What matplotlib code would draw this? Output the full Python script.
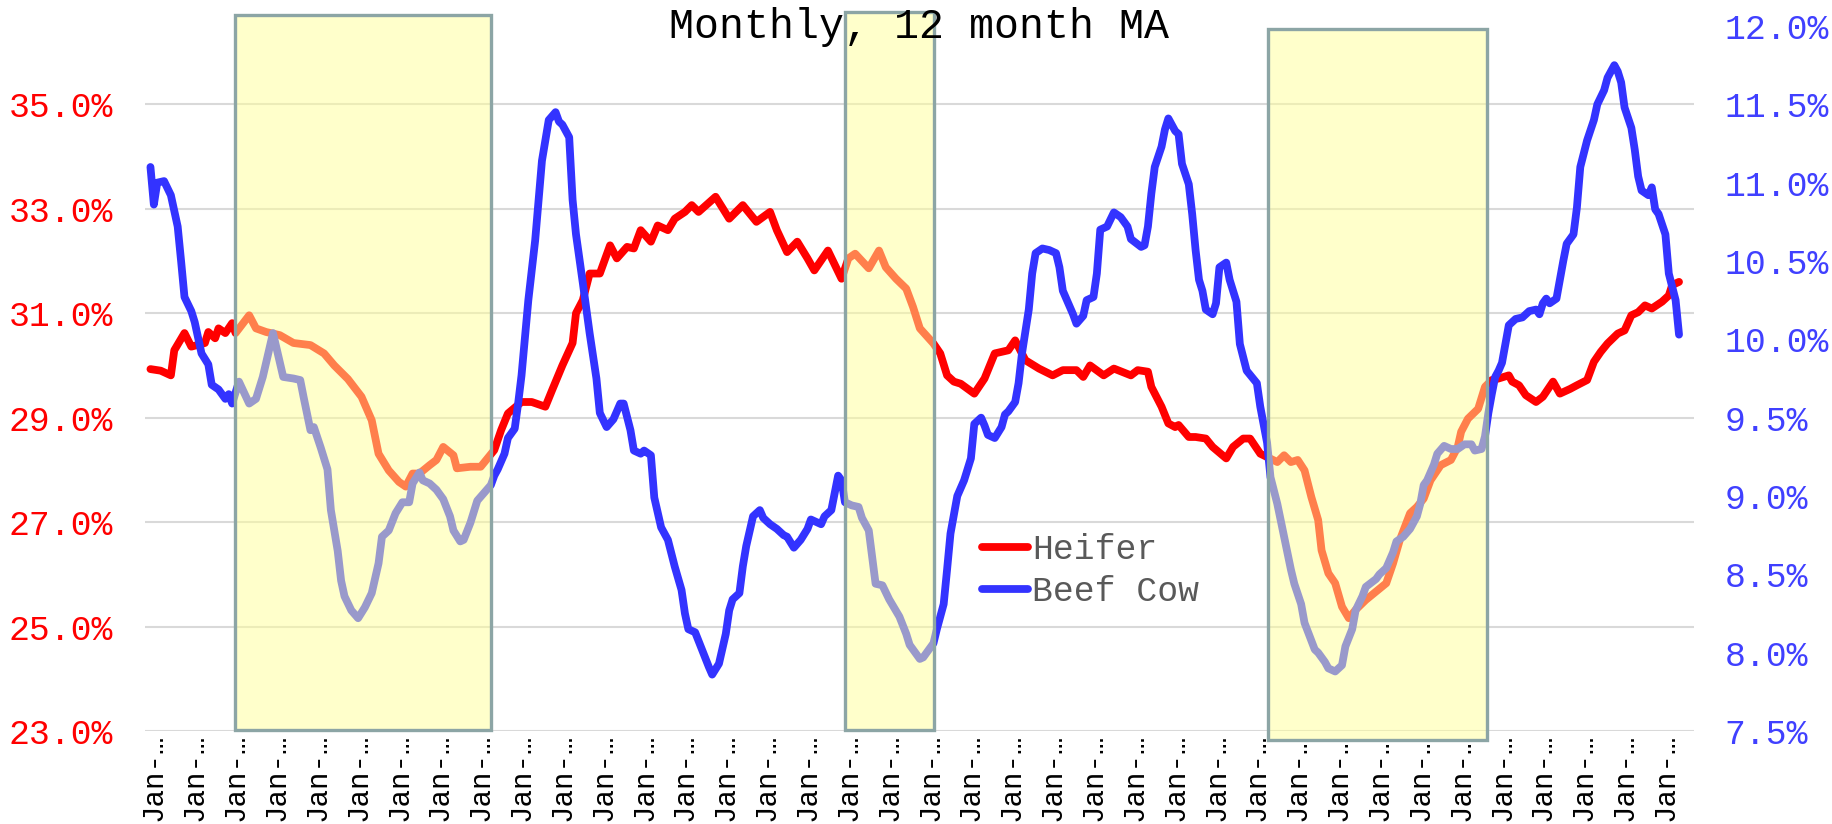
import matplotlib
matplotlib.use("Agg")
import matplotlib.pyplot as plt
from matplotlib.patches import Rectangle

# ---------------- data (month index from series start, percent) ----------------
heifer_month = [0, 3, 6, 7, 10, 12, 16, 17, 19, 20, 22, 24, 25, 29, 31, 34, 38, 42, 47, 51,
                54, 58, 62, 65, 67, 70, 73, 75, 77, 79, 82, 84, 86, 89, 90, 94, 97, 99, 101, 103,
                105, 109, 112, 116, 118, 121, 124, 125, 127, 129, 132, 135, 137, 140, 142, 144, 147, 149, 152, 154,
                157, 159, 161, 166, 170, 174, 178, 182, 184, 187, 190, 193, 195, 199, 203, 205, 207, 211, 214, 216,
                219, 222, 224, 226, 230, 232, 234, 236, 238, 242, 245, 248, 252, 254, 257, 261, 265, 268, 272, 274,
                276, 280, 283, 288, 290, 293, 294, 297, 299, 301, 302, 305, 307, 310, 312, 316, 318, 321, 323, 326,
                331, 333, 335, 337, 339, 341, 343, 344, 346, 348, 350, 352, 354, 357, 360, 363, 365, 367, 370, 372,
                374, 376, 379, 382, 384, 385, 387, 390, 392, 394, 396, 399, 400, 402, 404, 407, 409, 412, 414, 417,
                419, 422, 424, 426, 428, 431, 433, 435, 437, 439, 441, 444, 446, 447, 449]
heifer_pct = [29.93, 29.90, 29.81, 30.29, 30.62, 30.36, 30.43, 30.64, 30.52, 30.71, 30.62, 30.81, 30.62, 30.96, 30.71, 30.64, 30.58, 30.43, 30.39, 30.23,
              30.00, 29.74, 29.40, 28.95, 28.31, 27.99, 27.77, 27.68, 27.93, 27.93, 28.09, 28.19, 28.44, 28.28, 28.03, 28.06, 28.06, 28.22, 28.38, 28.76,
              29.08, 29.30, 29.30, 29.21, 29.53, 30.00, 30.43, 31.00, 31.25, 31.76, 31.76, 32.30, 32.05, 32.27, 32.24, 32.59, 32.37, 32.68, 32.59, 32.81,
              32.94, 33.07, 32.94, 33.23, 32.81, 33.07, 32.75, 32.94, 32.59, 32.17, 32.37, 32.05, 31.82, 32.20, 31.66, 32.05, 32.14, 31.86, 32.20, 31.88,
              31.66, 31.47, 31.12, 30.71, 30.42, 30.23, 29.81, 29.69, 29.65, 29.46, 29.75, 30.23, 30.29, 30.48, 30.10, 29.94, 29.81, 29.91, 29.91, 29.78,
              30.00, 29.81, 29.94, 29.81, 29.91, 29.88, 29.59, 29.21, 28.89, 28.82, 28.86, 28.63, 28.63, 28.60, 28.44, 28.22, 28.44, 28.60, 28.60, 28.31,
              28.15, 28.28, 28.15, 28.19, 27.99, 27.48, 27.04, 26.46, 26.02, 25.83, 25.38, 25.16, 25.32, 25.51, 25.67, 25.83, 26.21, 26.66, 27.17, 27.29,
              27.45, 27.80, 28.09, 28.19, 28.44, 28.73, 28.98, 29.17, 29.59, 29.72, 29.75, 29.81, 29.69, 29.62, 29.43, 29.30, 29.40, 29.69, 29.46, 29.55,
              29.62, 29.72, 30.07, 30.26, 30.42, 30.61, 30.67, 30.96, 31.02, 31.15, 31.09, 31.22, 31.34, 31.54, 31.60]

cow_month = [0, 1, 2, 4, 6, 8, 9, 10, 12, 13, 15, 17, 18, 20, 22, 23, 24, 26, 29, 31,
             33, 36, 39, 42, 44, 45, 47, 48, 50, 52, 53, 55, 56, 57, 59, 61, 63, 65, 67, 68,
             70, 72, 74, 76, 77, 79, 80, 82, 84, 86, 88, 89, 91, 92, 94, 96, 98, 100, 101, 102,
             104, 105, 107, 108, 109, 111, 113, 115, 117, 119, 120, 121, 123, 124, 125, 127, 129, 131, 132, 134,
             136, 138, 139, 141, 142, 144, 145, 147, 148, 150, 152, 154, 156, 157, 158, 160, 162, 164, 165, 167,
             169, 170, 171, 173, 174, 175, 177, 179, 180, 182, 184, 186, 187, 189, 191, 193, 194, 197, 198, 200,
             201, 202, 203, 204, 206, 208, 209, 211, 212, 213, 215, 217, 220, 222, 223, 224, 226, 227, 228, 230,
             231, 233, 234, 235, 237, 239, 241, 242, 244, 245, 246, 248, 250, 251, 252, 254, 255, 256, 258, 259,
             260, 262, 264, 266, 267, 268, 269, 271, 272, 274, 275, 277, 278, 279, 281, 283, 285, 287, 288, 291,
             292, 293, 294, 295, 297, 298, 299, 301, 302, 303, 305, 306, 307, 308, 309, 310, 312, 313, 314, 316,
             317, 319, 320, 322, 325, 326, 328, 329, 331, 333, 335, 336, 338, 339, 342, 343, 345, 346, 348, 350,
             351, 353, 354, 356, 357, 360, 361, 363, 365, 366, 368, 370, 372, 373, 374, 375, 377, 378, 380, 382,
             384, 386, 388, 389, 391, 392, 393, 394, 395, 396, 397, 398, 399, 401, 403, 405, 407, 408, 409, 410,
             411, 413, 414, 415, 416, 418, 419, 420, 422, 424, 425, 427, 428, 430, 431, 432, 433, 435, 436, 437,
             438, 440, 441, 442, 443, 445, 446, 448, 449]
cow_pct = [11.10, 10.86, 11.00, 11.01, 10.92, 10.72, 10.50, 10.27, 10.18, 10.11, 9.91, 9.84, 9.71, 9.68, 9.62, 9.65, 9.59, 9.73, 9.59, 9.62,
           9.76, 10.04, 9.76, 9.75, 9.74, 9.63, 9.42, 9.44, 9.31, 9.17, 8.91, 8.65, 8.46, 8.36, 8.27, 8.22, 8.29, 8.38, 8.57, 8.74,
           8.78, 8.89, 8.96, 8.96, 9.08, 9.15, 9.10, 9.08, 9.04, 8.98, 8.87, 8.78, 8.71, 8.72, 8.83, 8.97, 9.02, 9.07, 9.13, 9.17,
           9.27, 9.37, 9.43, 9.59, 9.77, 10.25, 10.63, 11.14, 11.40, 11.45, 11.39, 11.37, 11.29, 10.89, 10.67, 10.36, 10.04, 9.75, 9.53, 9.44,
           9.49, 9.59, 9.59, 9.42, 9.29, 9.27, 9.29, 9.26, 8.99, 8.80, 8.72, 8.55, 8.40, 8.25, 8.15, 8.13, 8.02, 7.91, 7.86, 7.93,
           8.12, 8.27, 8.34, 8.38, 8.55, 8.68, 8.87, 8.91, 8.86, 8.82, 8.79, 8.75, 8.74, 8.67, 8.72, 8.79, 8.85, 8.82, 8.87, 8.91,
           9.02, 9.13, 9.10, 8.96, 8.94, 8.93, 8.86, 8.78, 8.61, 8.44, 8.43, 8.34, 8.23, 8.12, 8.05, 8.02, 7.96, 7.97, 8.00, 8.06,
           8.15, 8.31, 8.53, 8.76, 9.00, 9.10, 9.24, 9.46, 9.50, 9.45, 9.39, 9.37, 9.44, 9.52, 9.54, 9.60, 9.72, 9.91, 10.19, 10.42,
           10.55, 10.58, 10.57, 10.55, 10.46, 10.31, 10.26, 10.16, 10.10, 10.15, 10.25, 10.27, 10.42, 10.70, 10.72, 10.81, 10.78, 10.72, 10.64, 10.59,
           10.60, 10.72, 10.93, 11.10, 11.23, 11.34, 11.41, 11.33, 11.31, 11.12, 10.99, 10.80, 10.57, 10.38, 10.31, 10.19, 10.16, 10.23, 10.46, 10.49,
           10.38, 10.24, 9.97, 9.80, 9.72, 9.57, 9.34, 9.12, 8.95, 8.74, 8.53, 8.44, 8.31, 8.19, 8.02, 8.00, 7.94, 7.90, 7.88, 7.92,
           8.04, 8.15, 8.27, 8.36, 8.42, 8.47, 8.50, 8.54, 8.64, 8.71, 8.74, 8.79, 8.87, 8.95, 9.07, 9.10, 9.20, 9.27, 9.32, 9.30,
           9.30, 9.33, 9.33, 9.29, 9.30, 9.38, 9.53, 9.65, 9.76, 9.80, 9.85, 9.97, 10.09, 10.13, 10.14, 10.18, 10.19, 10.16, 10.23, 10.26,
           10.23, 10.26, 10.38, 10.50, 10.61, 10.67, 10.84, 11.10, 11.27, 11.40, 11.50, 11.59, 11.67, 11.75, 11.71, 11.64, 11.48, 11.35, 11.21, 11.04,
           10.95, 10.92, 10.97, 10.83, 10.80, 10.67, 10.42, 10.25, 10.03]

# x tick labels: every January (12-month interval)
tick_months = list(range(1, 450, 12))
tick_labels = ["Jan-\u2026"] * len(tick_months)

left_ticks = [23, 25, 27, 29, 31, 33, 35]
right_ticks = [7.5, 8.0, 8.5, 9.0, 9.5, 10.0, 10.5, 11.0, 11.5, 12.0]

# shaded periods (start month, end month)
shade_start = [24.8, 204.0, 328.3]
shade_end = [100.0, 230.1, 392.6]
shade_top = [36.72, 36.76, 36.44]      # in left-axis units (extends above plot)
shade_bottom = [23.02, 23.02, 22.83]

series_names = ["Heifer", "Beef Cow"]

# ---------------- figure ----------------
MONO = ["Liberation Mono", "DejaVu Sans Mono"]
W, H = 1833, 824
fig = plt.figure(figsize=(W / 100, H / 100), dpi=100)
ax = fig.add_axes([145 / W, 1 - 731 / H, (1694 - 145) / W, (731 - 26) / H])
ax2 = ax.twinx()

LW = 5.6
l1, = ax.plot(heifer_month, heifer_pct, color="#FF0000", lw=LW, solid_capstyle="round",
              solid_joinstyle="round", zorder=3)
l2, = ax2.plot(cow_month, cow_pct, color="#3333FF", lw=LW, solid_capstyle="round",
               solid_joinstyle="round", zorder=3)

ax.set_xlim(-1.6, 453.4)
ax.set_ylim(23, 36.5)
ax2.set_ylim(7.5, 12.0)

ax.set_yticks(left_ticks)
ax.set_yticklabels([f"{v:.1f}%" for v in left_ticks], family=MONO, fontsize=25, color="#FF0000")
ax2.set_yticks(right_ticks)
ax2.set_yticklabels([f"{v:.1f}%" for v in right_ticks], family=MONO, fontsize=25, color="#4040FF")
ax.set_xticks(tick_months)
ax.set_xticklabels(tick_labels, rotation=90, family=MONO, fontsize=21, color="#000000")

ax.tick_params(axis="y", length=0, pad=23)
ax2.tick_params(axis="y", length=0, pad=22)
ax.tick_params(axis="x", length=0, pad=2)

ax.yaxis.grid(True, color="#D9D9D9", lw=1.5)
ax.set_axisbelow(True)
for a in (ax, ax2):
    for s in a.spines.values():
        s.set_visible(False)

for x0, x1, yt, yb in zip(shade_start, shade_end, shade_top, shade_bottom):
    r = Rectangle((x0, yb), x1 - x0, yt - yb, transform=ax.transData,
                  facecolor=(1, 1, 0.6, 0.5), edgecolor="#8CA5A5", lw=2.4,
                  clip_on=False, zorder=5)
    ax2.add_patch(r)

leg = ax2.legend([l1, l2], series_names, loc="center left",
                 bbox_to_anchor=(982 / W, 1 - 570.5 / H), bbox_transform=fig.transFigure,
                 frameon=False, prop={"family": MONO, "size": 25},
                 handlelength=1.33, handletextpad=0.12, labelspacing=0.25,
                 borderpad=0, borderaxespad=0)
for t in leg.get_texts():
    t.set_color("#595959")

fig.text(919.5 / W, 1 - 38 / H, "Monthly, 12 month MA", ha="center", va="baseline",
         family=MONO, fontsize=30, color="#000000")

fig.savefig("out.png", dpi=100)
